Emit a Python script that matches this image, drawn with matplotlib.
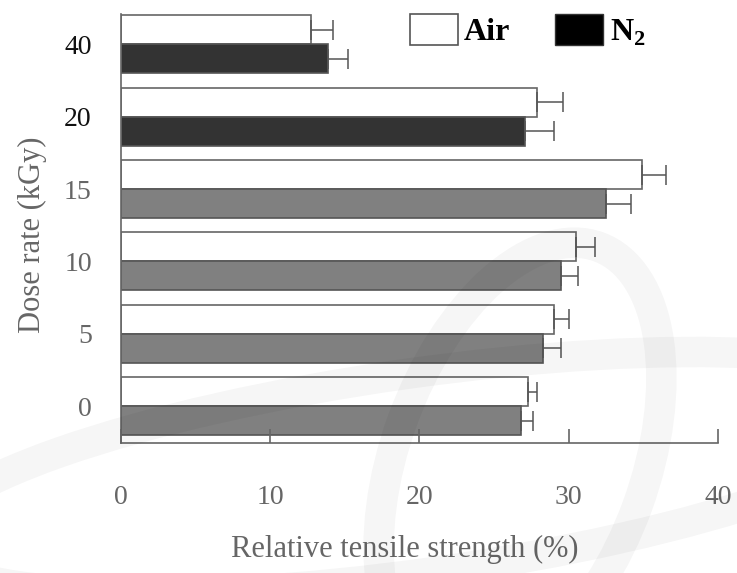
import numpy as np
import matplotlib
matplotlib.use('Agg')
import matplotlib.pyplot as plt
from matplotlib.patches import Patch, Ellipse

# data
doses = ['0', '5', '10', '15', '20', '40']
air = [27.3, 29.0, 30.5, 34.9, 27.9, 12.7]
air_err = [0.6, 1.0, 1.3, 1.6, 1.7, 1.5]
n2 = [26.8, 28.3, 29.5, 32.5, 27.1, 13.9]
n2_err = [0.8, 1.2, 1.1, 1.7, 1.9, 1.3]
n2_colors = ['#808080', '#808080', '#808080', '#808080', '#333333', '#333333']
label_colors = ['#666666', '#666666', '#666666', '#666666', '#111111', '#111111']

plt.rcParams['font.family'] = ['Liberation Serif', 'DejaVu Serif']
plt.rcParams['mathtext.fontset'] = 'custom'
plt.rcParams['mathtext.rm'] = 'Liberation Serif'
plt.rcParams['mathtext.bf'] = 'Liberation Serif:bold'

fig = plt.figure(figsize=(7.37, 5.73), dpi=100)
ax = fig.add_axes([0.1642, 0.2269, 0.8098, 0.7487])

y = np.arange(len(doses))
h = 0.4
ekw = dict(ecolor='#555555', capsize=7, elinewidth=1.1, capthick=1.1)
ax.barh(y + h / 2, air, height=h, color='white', edgecolor='#666666', linewidth=1.2,
        xerr=[np.zeros(len(air)), air_err], error_kw=ekw)
ax.barh(y - h / 2, n2, height=h, color=n2_colors, edgecolor='#555555', linewidth=1.2,
        xerr=[np.zeros(len(n2)), n2_err], error_kw=ekw)

ax.set_xlim(0, 40)
ax.set_ylim(-0.51, 5.42)
ax.set_xticks([0, 10, 20, 30, 40])
ax.set_yticks(y)
ax.set_yticklabels(doses)
for lbl, c in zip(ax.get_yticklabels(), label_colors):
    lbl.set_color(c)

ax.tick_params(axis='x', direction='in', length=10, width=1.2, color='#666666',
               labelsize=20, labelcolor='#666666', pad=30)
ax.tick_params(axis='y', length=0, labelsize=20, pad=21)
ax.spines['top'].set_visible(False)
ax.spines['right'].set_visible(False)
for s in ['left', 'bottom']:
    ax.spines[s].set_color('#666666')
    ax.spines[s].set_linewidth(1.2)

ax.set_xlabel('Relative tensile strength (%)', fontsize=22, color='#666666', labelpad=18)
ax.xaxis.label.set_x(0.476)
ax.set_ylabel('Dose rate (kGy)', fontsize=22, color='#666666', labelpad=12)
ax.yaxis.label.set_y(0.485)

handles = [Patch(facecolor='white', edgecolor='#555555', linewidth=1.2, label='Air'),
           Patch(facecolor='black', edgecolor='#333333', label='N$_\\mathbf{2}$')]
leg = ax.legend(handles=handles, ncol=2, frameon=False, loc='upper left',
                bbox_to_anchor=(0.484, 1.0), borderaxespad=0, borderpad=0,
                handlelength=1.5, handleheight=1.1,
                handletextpad=0.2, columnspacing=1.4,
                prop={'weight': 'bold', 'size': 23})

# faint watermark arcs
for (cx, cy, w, hh, ang) in [(520, 110, 250, 460, -20), (420, 100, 1000, 200, 8)]:
    e = Ellipse((cx, cy), w, hh, angle=ang, transform=None, fill=False,
                edgecolor='black', alpha=0.035, linewidth=22, zorder=10)
    fig.add_artist(e)

fig.savefig('out.png', dpi=100)
